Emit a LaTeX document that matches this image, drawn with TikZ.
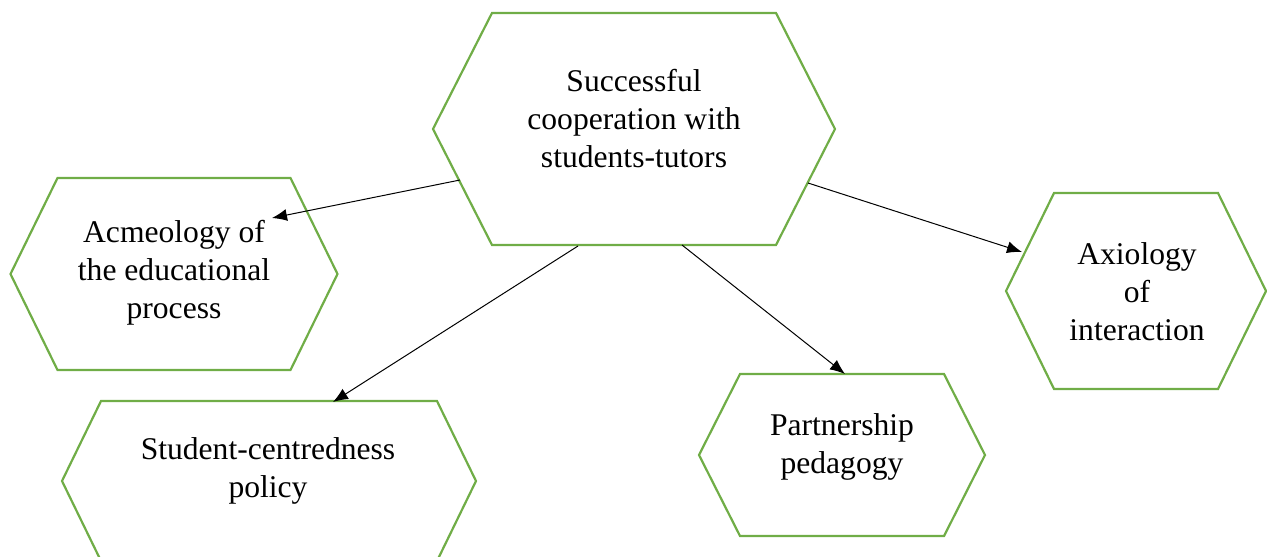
\documentclass[tikz,border=0pt]{standalone}
\usepackage{fontspec}
\setmainfont{Liberation Serif}
\usepackage{tikz}
\usetikzlibrary{arrows.meta}
\definecolor{office green}{RGB}{112,173,71}

% hexagon round a node: node, dx, dy, half width, half height, inset
\newcommand{\hexa}[6]{%
	\draw[hexline] ([shift={(#2-#4,#3)}]#1.center)
		-- ([shift={(#2-#4+#6,#3-#5)}]#1.center)
		-- ([shift={(#2+#4-#6,#3-#5)}]#1.center)
		-- ([shift={(#2+#4,#3)}]#1.center)
		-- ([shift={(#2+#4-#6,#3+#5)}]#1.center)
		-- ([shift={(#2-#4+#6,#3+#5)}]#1.center)
		-- cycle;}

\begin{document}
\begin{tikzpicture}[x=0.5pt, y=-0.5pt,
		hexline/.style={office green, line width=1.1pt, line join=miter},
		idea/.style={align=center, inner sep=0pt, font=\fontsize{15.8}{19}\selectfont},
		link/.style={-{Latex[length=7.5pt,width=6pt]}, line width=0.5pt}]
			\useasboundingbox (0,0) rectangle (1267,556);
			% nodes
			\node[idea] (succ) at (634,119) {Successful\\cooperation with\\students-tutors};
			\node[idea] (acme) at (174,273) {Acmeology of\\the educational\\process};
			\node[idea] (stud) at (268,471) {Student-centredness\\policy};
			\node[idea] (part) at (842,447) {Partnership\\pedagogy};
			\node[idea] (axio) at (1137,292) {Axiology\\of\\interaction};
			% hexagons
			\hexa{succ}{0}{10}{201}{116}{59}
			\hexa{acme}{0}{1}{163.5}{96}{47}
			\hexa{stud}{1}{10}{207}{80}{39}
			\hexa{part}{0}{8}{143}{81}{41}
			\hexa{axio}{-1}{-1}{130}{98}{48}
			% arrows
			\draw[link] ([shift={(-174,61)}]succ.center) -- ([shift={(98,-55)}]acme.center);
			\draw[link] ([shift={(-56,127)}]succ.center) -- ([shift={(65,-69)}]stud.center);
			\draw[link] ([shift={(48,126)}]succ.center) -- ([shift={(3,-73)}]part.center);
			\draw[link] ([shift={(174,64)}]succ.center) -- ([shift={(-115,-40)}]axio.center);
		\end{tikzpicture}
\end{document}
